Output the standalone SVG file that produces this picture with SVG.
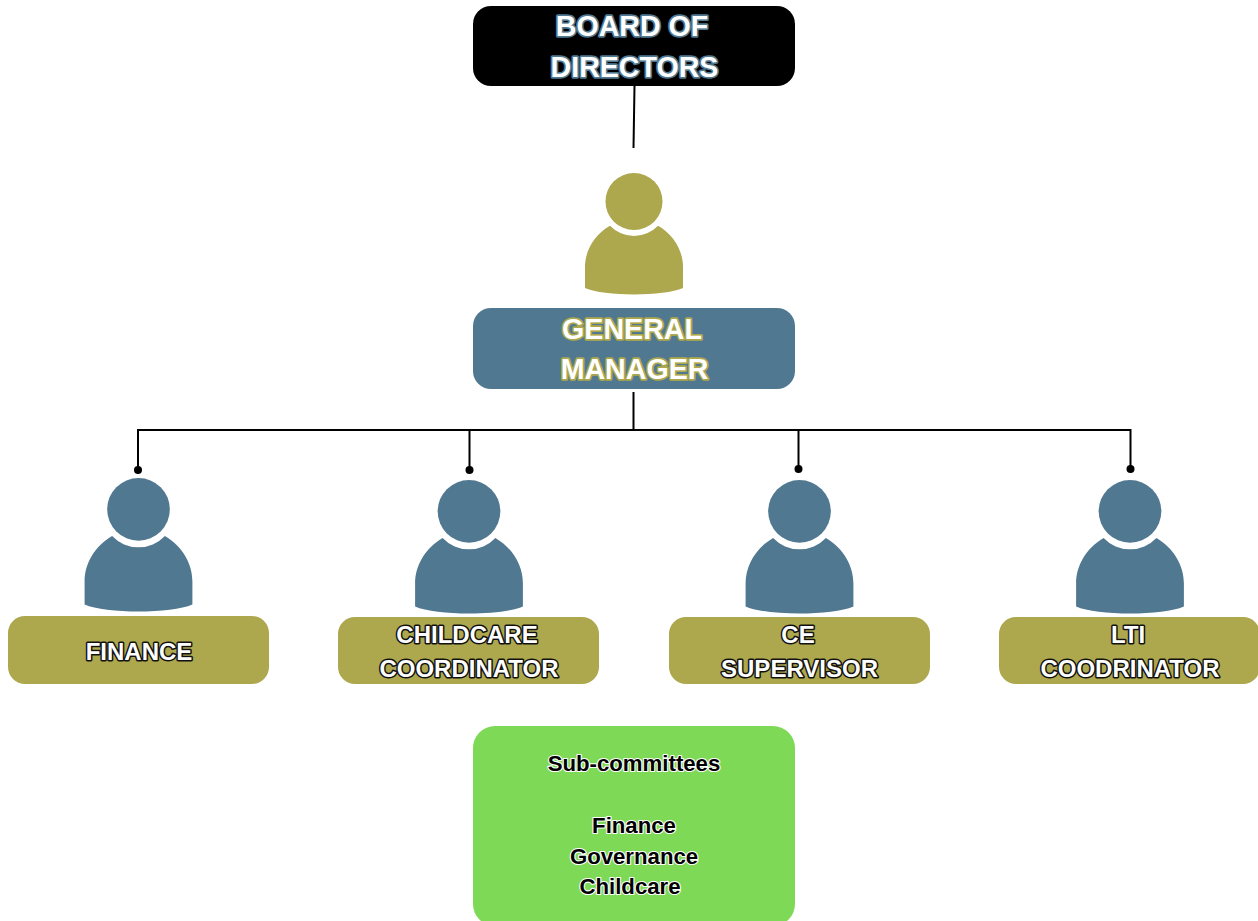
<svg xmlns="http://www.w3.org/2000/svg" width="1258" height="921" viewBox="0 0 1258 921">
<style>
text{font-family:"Liberation Sans",Arial,sans-serif;font-weight:700;text-anchor:middle;paint-order:stroke fill;stroke-linejoin:round}
.big{font-size:28.6px;fill:#fff;stroke-width:3.4px}
.b{stroke:#517891}.g{stroke:#ada74d}
.mid{font-size:24px;fill:#fff;stroke:#111;stroke-width:3px}
.sm{font-size:22.2px;fill:#000;stroke:#fff;stroke-width:2.2px}
.olive{fill:#ada74d}.blue{fill:#517891}
.line{fill:none;stroke:#000;stroke-width:2}
</style>
<defs>
<g id="person">
<circle cx="0" cy="28.5" r="28.5"/>
<path d="M-24,52.7A33,33 0 0 0 24,52.7C40,62 49,78 49,94L49,115C30,123.500 -30,123.500 -49,115L-49,94C-49,78 -40,62 -24,52.7Z"/>
</g>
</defs>
<g id="connectors">
<path class="line" d="M634.5,86L633.5,148"/>
<path class="line" d="M633.5,392V430M138,470V430H1130.500V470M469.500,430V470M798.500,430V470"/>
<g>
<circle cx="138" cy="470" r="4"/><circle cx="469.500" cy="470" r="4"/><circle cx="798.500" cy="469" r="4"/><circle cx="1130.500" cy="469" r="4"/>
</g>
</g>
<g id="board">
<rect x="473" y="6" width="322" height="80" rx="18" fill="#000"/>
<text class="big b" x="632" y="36">BOARD OF</text>
<text class="big b" x="634.500" y="77">DIRECTORS</text>
</g>
<g id="gm-person"><use href="#person" class="olive" transform="translate(634,173)"/></g>
<g id="general-manager">
<rect x="473" y="308" width="322" height="81" rx="18" class="blue"/>
<text class="big g" x="632" y="339">GENERAL</text>
<text class="big g" x="634.500" y="379">MANAGER</text>
</g>
<g id="finance-person"><use href="#person" class="blue" transform="translate(138.500,478) scale(1.1)"/></g>
<g id="childcare-person"><use href="#person" class="blue" transform="translate(469,480) scale(1.1)"/></g>
<g id="ce-person"><use href="#person" class="blue" transform="translate(799.500,480) scale(1.1)"/></g>
<g id="lti-person"><use href="#person" class="blue" transform="translate(1130,480) scale(1.1)"/></g>
<g id="finance">
<rect x="8" y="616" width="261" height="68" rx="17" class="olive"/>
<text class="mid" x="139" y="660">FINANCE</text>
</g>
<g id="childcare">
<rect x="338" y="617" width="261" height="67" rx="17" class="olive"/>
<text class="mid" x="467" y="643">CHILDCARE</text>
<text class="mid" x="469" y="677">COORDINATOR</text>
</g>
<g id="ce">
<rect x="669" y="617" width="261" height="67" rx="17" class="olive"/>
<text class="mid" x="798" y="643">CE</text>
<text class="mid" x="799.500" y="677">SUPERVISOR</text>
</g>
<g id="lti">
<rect x="999" y="617" width="261" height="67" rx="17" class="olive"/>
<text class="mid" x="1128" y="643">LTI</text>
<text class="mid" x="1130" y="677">COODRINATOR</text>
</g>
<g id="sub-committees">
<rect x="473" y="726" width="322" height="200" rx="22" fill="#7ed957"/>
<text class="sm" x="634" y="771">Sub-committees</text>
<text class="sm" x="634" y="833">Finance</text>
<text class="sm" x="634" y="864">Governance</text>
<text class="sm" x="630" y="894">Childcare</text>
</g>
</svg>
